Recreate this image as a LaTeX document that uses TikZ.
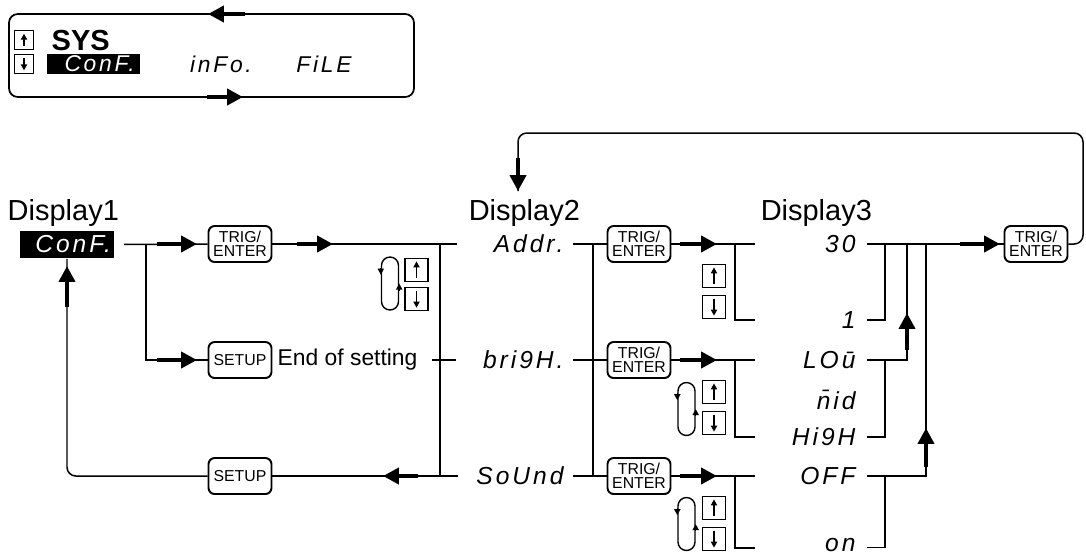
\documentclass[tikz,border=0pt]{standalone}
\usepackage{fontspec}
\setmainfont{Liberation Sans}
\newfontfamily\segfont[LetterSpace=12]{Liberation Sans}
\usetikzlibrary{arrows.meta}

\tikzset{
  keybox/.style={draw, line width=1.1pt, rounded corners=3.5pt, minimum width=1.26cm,
    minimum height=0.72cm, inner sep=0pt, align=center, font=\fontsize{9}{8}\selectfont},
  segtxt/.style={font=\segfont\itshape\fontsize{14}{14}\selectfont, inner sep=1pt},
  displbl/.style={font=\fontsize{16.5}{18}\selectfont, anchor=base west, inner sep=0pt},
  updn/.style={draw, line width=0.8pt, minimum size=0.46cm, inner sep=0pt},
  loopoval/.style={draw, line width=0.8pt, minimum width=0.34cm, minimum height=1.06cm,
    rounded corners=0.17cm, inner sep=0pt},
  fatarrow/.style={line width=2.6pt, -{Triangle[length=9pt,width=9pt]}},
  keyarrow/.style={line width=0.9pt, -{Triangle[length=3.5pt,width=3.5pt]}},
}

\begin{document}
\begin{tikzpicture}[x=0.02cm, y=-0.02cm, line width=0.85pt]
  \useasboundingbox (0,0) rectangle (1086,559);

  % menu overview
  \draw[rounded corners=5pt, line width=1pt] (9,14) rectangle (414,97);
  \draw[fatarrow] (245,14) -- (208,14);
  \draw[fatarrow] (207,97) -- (243,97);
  \node[updn, minimum size=0.37cm] (us) at (24,40) {};
  \node[updn, minimum size=0.37cm] (ds) at (24,64) {};
  \node[anchor=west, font=\bfseries\fontsize{16.5}{16}\selectfont, inner sep=0pt] (sys) at (51,41) {SYS};
  \node[fill=black, minimum width=1.86cm, minimum height=0.4cm, inner sep=0pt] (cbox0) at (93.5,64) {};
  \node[segtxt, text=white, anchor=east, font=\segfont\itshape\fontsize{13}{13}\selectfont] (conf0) at ([xshift=-2pt]cbox0.east) {ConF.};
  \node[segtxt, font=\segfont\itshape\fontsize{13}{13}\selectfont] (info) at (221,64) {inFo.};
  \node[segtxt, font=\segfont\itshape\fontsize{13}{13}\selectfont] (file) at (324,64) {FiLE};

  % Display1
  \node[displbl] (lab1) at (7,220) {Display1};
  \node[fill=black, minimum width=1.9cm, minimum height=0.54cm, inner sep=0pt] (cbox) at (67,244.5) {};
  \node[segtxt, text=white, anchor=east] (conf) at ([xshift=-1pt]cbox.east) {ConF.};
  \node[keybox] (te1) at (240,244) {TRIG/\\ENTER};
  \node[keybox] (su1) at (240,360) {SETUP};
  \node[anchor=west, font=\fontsize{13}{13}\selectfont, inner sep=0pt] (eos) at (277,360) {End of setting};
  \node[keybox] (su2) at (240,476) {SETUP};
  \node[loopoval] (oa) at (390,283.5) {};
  \node[updn] (ua) at (416.5,270) {};
  \node[updn] (da) at (416.5,299) {};
  \coordinate (j1) at (146,244);
  \coordinate (j2) at (440,244);
  \coordinate (j3) at (440,476);
  \coordinate (a1) at (457,244);
  \coordinate (b1) at (432,360);
  \coordinate (b2) at (456,360);
  \coordinate (c1) at (458,476);
  \draw[shorten <=5pt] (cbox.east) -- (te1.west);
  \draw (te1.east) -- (a1);
  \draw (j1) |- (su1.west);
  \draw (j2) -- (j3);
  \draw (b1) -- (b2);
  \draw (c1) -- (su2.east);
  \draw[rounded corners=5pt] (su2.west) -| (cbox.south);
  \draw[fatarrow] (157,244) -- (197,244);
  \draw[fatarrow] (297,244) -- (333,244);
  \draw[fatarrow] (157,360) -- (197,360);
  \draw[fatarrow] (418,476) -- (383,476);
  \draw[fatarrow] (67,307) -- (67,266);

  % Display2
  \node[displbl] (lab2) at (468,220) {Display2};
  \coordinate (k1) at (593,244);
  \coordinate (k3) at (593,476);
  \draw (k1) -- (k3);
  \foreach \r/\ry/\ly/\txt in {1/244/320/Addr., 2/360/437/bri9H., 3/476/548/SoUnd} {
    \node[segtxt, anchor=east] (m\r) at (566,\ry) {\txt};
    \node[keybox] (e\r) at (639,\ry) {TRIG/\\ENTER};
    \node[updn] (u\r) at (714,{\ry+32}) {};
    \node[updn] (d\r) at (714,{\ry+63}) {};
    \coordinate (bt\r) at (755,\ry);
    \coordinate (bv\r) at (735,\ry);
    \coordinate (bb\r) at (755,\ly);
    \draw[shorten <=4pt] (m\r.east) -- (e\r.west);
    \draw (e\r.east) -- (bt\r);
    \draw (bv\r) |- (bb\r);
    \draw[fatarrow] (680,\ry) -- (717,\ry);
  }
  \node[loopoval] (o2) at (686.5,409) {};
  \node[loopoval] (o3) at (686.5,524) {};

  % up / down keys
  \foreach \b in {us, ua, u1, u2, u3}
    \draw[keyarrow] ([yshift=2.5pt]\b.south) -- ([yshift=-2pt]\b.north);
  \foreach \b in {ds, da, d1, d2, d3}
    \draw[keyarrow] ([yshift=-2.5pt]\b.north) -- ([yshift=2pt]\b.south);
  \foreach \o in {oa, o2, o3} {
    \draw[keyarrow] ([yshift=9pt]\o.west) -- ([yshift=5pt]\o.west);
    \draw[keyarrow] ([yshift=-4pt]\o.east) -- ([yshift=0pt]\o.east);
  }

  % Display3
  \node[displbl] (lab3) at (760,220) {Display3};
  \node[segtxt, anchor=east] (v30) at (858,244) {30};
  \node[segtxt, anchor=east] (v1) at (858,320) {1};
  \node[segtxt, anchor=east] (vlo) at (858,360) {LO\=u};
  \node[segtxt, anchor=east] (vmid) at (858,400) {\=nid};
  \node[segtxt, anchor=east] (vhi) at (858,437) {Hi9H};
  \node[segtxt, anchor=east] (voff) at (858,476) {OFF};
  \node[segtxt, anchor=east] (von) at (858,545) {on};
  \node[keybox] (e4) at (1036,244) {TRIG/\\ENTER};
  \coordinate (g1) at (885,244);
  \coordinate (g2) at (907,244);
  \coordinate (g3) at (885,360);
  \coordinate (g4) at (926,244);
  \coordinate (g5) at (885,476);
  \draw[shorten <=5pt] (v30.east) -- (e4.west);
  \draw[shorten <=5pt] (v1.east) -| (g1);
  \draw[shorten <=5pt] (vlo.east) -| (g2);
  \draw[shorten <=5pt] (vhi.east) -| (g3);
  \draw[shorten <=5pt] (voff.east) -| (g4);
  \draw[shorten <=5pt] ([yshift=-1.5pt]von.east) -| (g5);
  \draw[fatarrow] (907,350) -- (907,313);
  \draw[fatarrow] (926,467) -- (926,428);
  \draw[fatarrow] (960,244) -- (1000,244);

  % back to Display2
  \coordinate (fb1) at (1083,244);
  \coordinate (fb2) at (1083,133);
  \coordinate (fb3) at (518,133);
  \coordinate (fb4) at (518,191);
  \draw[rounded corners=5pt] (e4.east) -- (fb1) -- (fb2) -- (fb3) -- (fb4);
  \draw[fatarrow] (518,158) -- (fb4);
\end{tikzpicture}
\end{document}
